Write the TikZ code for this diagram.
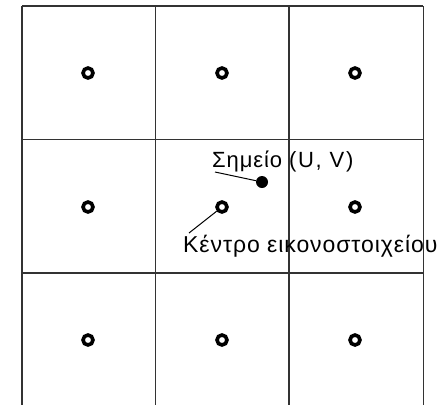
\documentclass[tikz,border=0pt]{standalone}
\usepackage{fontspec}
\setmainfont{Liberation Sans}
\newfontfamily\lblfont[LetterSpace=4]{Liberation Sans}
\usepackage{tikz}

\begin{document}
\begin{tikzpicture}[
    x=1pt, y=-1pt,
    grid/.style={draw=black!80, line width=1.7pt},
    center/.style={circle, draw=black, line width=3.6pt, minimum size=10pt, inner sep=0pt},
    sample/.style={circle, fill=black, minimum size=12pt, inner sep=0pt},
    label/.style={inner sep=0pt, anchor=base west},
    leader/.style={draw=black, line width=1pt}
]
\useasboundingbox (0,0) rectangle (447,405);
\fill[white] (0,0) rectangle (447,405);

% pixel grid
\draw[grid] (22,6) -- (423,6);
\draw[grid] (22,139.5) -- (423,139.5);
\draw[grid] (22,273) -- (423,273);
\draw[grid] (22,6) -- (22,405);
\draw[grid] (155.5,6) -- (155.5,405);
\draw[grid] (289,6) -- (289,405);
\draw[grid] (423.5,6) -- (423.5,405);

% pixel centres
\node[center] (c11) at (88,73) {};
\node[center] (c12) at (222,73) {};
\node[center] (c13) at (355,73) {};
\node[center] (c21) at (88,207) {};
\node[center] (c22) at (222,207) {};
\node[center] (c23) at (355,207) {};
\node[center] (c31) at (88,340) {};
\node[center] (c32) at (222,340) {};
\node[center] (c33) at (355,340) {};

% sample point
\node[sample] (uv) at (262,182) {};

\node[label, font=\lblfont\fontsize{22}{26}\selectfont] (pointlbl) at (212,167)
    {Σημείο {\addfontfeature{LetterSpace=8}(U, V)}};
\node[label, font=\lblfont\fontsize{23}{27}\selectfont] (centrelbl) at (183,252)
    {Κέντρο εικονοστοιχείου};

\coordinate (pointend) at (215,172);
\coordinate (centreend) at (189,233);
\draw[leader] (pointend) -- (uv);
\draw[leader] (centreend) -- (c22);
\end{tikzpicture}
\end{document}
